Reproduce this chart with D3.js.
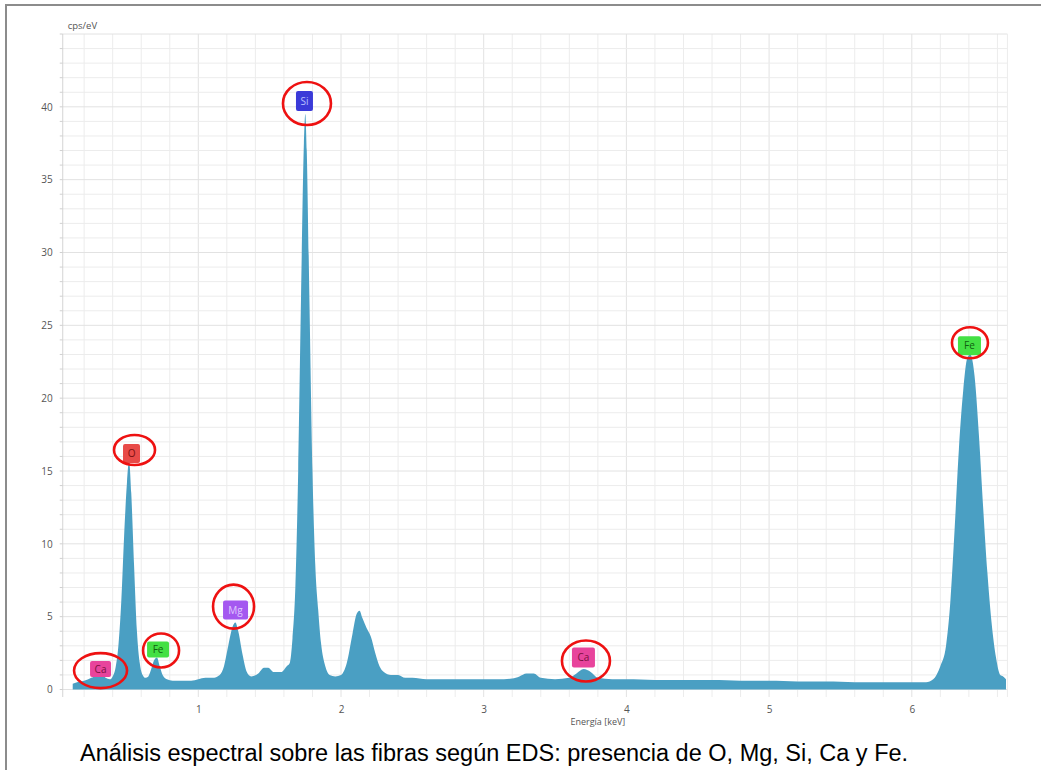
<!DOCTYPE html>
<html><head><meta charset="utf-8">
<script src="https://cdn.jsdelivr.net/npm/d3@7"></script>
<style>
html,body{margin:0;padding:0;background:#fff;}
svg{display:block;}
</style></head>
<body>
<svg id="chart" width="1041" height="770"></svg>
<script>
// ---------- DATA ----------
const energyKeV = [0.12,0.15,0.20,0.25,0.28,0.30,0.32,0.35,0.38,0.40,0.42,0.44,0.46,0.48,0.50,0.515,0.53,0.55,0.57,0.59,0.61,0.63,0.65,0.67,0.69,0.71,0.73,0.75,0.78,0.82,0.88,0.95,1.00,1.05,1.10,1.15,1.18,1.21,1.24,1.26,1.28,1.31,1.34,1.37,1.42,1.46,1.49,1.53,1.58,1.62,1.64,1.66,1.68,1.70,1.72,1.74,1.75,1.76,1.78,1.80,1.82,1.84,1.86,1.89,1.92,1.96,2.00,2.04,2.08,2.11,2.13,2.15,2.18,2.21,2.24,2.27,2.30,2.35,2.40,2.45,2.50,2.60,2.70,2.80,2.90,3.00,3.10,3.20,3.25,3.30,3.35,3.40,3.50,3.60,3.65,3.70,3.75,3.80,3.90,4.00,4.20,4.40,4.60,4.80,5.00,5.20,5.40,5.60,5.80,6.00,6.10,6.15,6.20,6.24,6.27,6.30,6.33,6.36,6.39,6.41,6.44,6.47,6.50,6.53,6.56,6.59,6.62,6.64,6.66];
const cpsPerEV = [0.4,0.5,0.6,0.8,1.0,1.4,1.3,0.8,0.7,0.9,1.5,3.0,6.0,10.5,14.2,15.7,13.5,8.5,4.0,1.8,1.0,0.8,0.9,1.4,2.0,2.2,1.6,1.0,0.7,0.6,0.6,0.6,0.7,0.8,0.8,1.0,1.6,3.0,4.3,4.6,4.0,2.4,1.2,0.9,1.1,1.5,1.5,1.2,1.2,1.6,1.8,3.5,7.0,15.0,27.0,37.5,39.5,37.0,26.0,15.0,8.5,5.5,3.2,1.6,1.0,0.9,1.0,1.8,3.8,5.2,5.4,4.9,4.2,3.6,2.5,1.6,1.2,1.0,1.0,0.8,0.8,0.7,0.7,0.7,0.7,0.7,0.7,0.75,0.9,1.1,1.1,0.8,0.7,0.8,1.1,1.4,1.2,0.8,0.7,0.7,0.65,0.65,0.65,0.6,0.6,0.55,0.55,0.5,0.5,0.5,0.5,0.7,1.6,3.0,6.0,11.0,16.5,20.5,22.8,23.0,21.5,17.5,12.5,8.0,4.5,2.2,1.0,0.9,0.7];

const yTicks = [0,5,10,15,20,25,30,35,40];
const xTicks = [1,2,3,4,5,6];

const peakElements = ["Ca","O","Fe","Mg","Si","Ca","Fe"];
const peakEnergy   = [0.315,0.532,0.718,1.261,1.744,3.699,6.404];
const peakLabelCps = [1.4,16.2,2.75,5.45,40.4,2.2,23.6];

const yAxisTitle = "cps/eV";
const xAxisTitle = "Energía [keV]";
const caption = "Análisis espectral sobre las fibras según EDS: presencia de O, Mg, Si, Ca y Fe.";

// ---------- STYLE ----------
const elementStyle = {
  Ca:{fill:"#e8449c", text:"#7a1040"},
  O: {fill:"#e84a48", text:"#7a1010"},
  Fe:{fill:"#44e044", text:"#106010"},
  Mg:{fill:"#a458f0", text:"#e0c8ff"},
  Si:{fill:"#3a3ad8", text:"#b8c0ff"}
};
const boxW = [21,17,22,25,17,23,23];
const boxH = [16,19,16,19,20,20,19];
const ringDX = [0,3,3,-2,2.5,2.5,0.5];
const ringDY = [1.5,-3.5,1,-3.5,2.5,3.5,-3];
const ringRX = [26.5,20.5,18,20.5,24,24,18];
const ringRY = [17.5,15,17,22,21.5,20.5,15.5];

const svg = d3.select("#chart");
const x = d3.scaleLinear().domain([0,7]).range([55.6, 55.6 + 7*142.7]);
const y = d3.scaleLinear().domain([0,45]).range([689.5, 34]);
const xMin = 0.05, xMax = 6.67;
const plotBottom = 697;

// outer frame
svg.append("path").attr("d","M6,772 L6,5 L1045,5").attr("fill","none")
  .attr("stroke","#8c8c8c").attr("stroke-width",2);

// grid
const g = svg.append("g");
const xGrid = d3.range(2, 67, 2).map(v => v/10);
g.selectAll(".vg").data(xGrid).join("line")
  .attr("x1", d => x(d)).attr("x2", d => x(d))
  .attr("y1", y(45)).attr("y2", plotBottom)
  .attr("stroke", d => Number.isInteger(d) ? "#e2e2e2" : "#ececec").attr("stroke-width",1);
const yGrid = d3.range(0, 46, 1);
g.selectAll(".hg").data(yGrid).join("line")
  .attr("x1", x(xMin)).attr("x2", x(xMax))
  .attr("y1", d => y(d)).attr("y2", d => y(d))
  .attr("stroke", d => d % 5 === 0 ? "#e2e2e2" : "#ececec").attr("stroke-width",1);
g.append("line").attr("x1",x(xMax)).attr("x2",x(xMax)).attr("y1",y(45)).attr("y2",plotBottom)
  .attr("stroke","#ececec");

// spectrum area
const data = energyKeV.map((e,i)=>({e, v:cpsPerEV[i]}));
const area = d3.area().x(d=>x(d.e)).y0(y(0)).y1(d=>y(d.v)).curve(d3.curveMonotoneX);
svg.append("path").datum(data).attr("d", area).attr("fill","#4a9fc3");

// y axis
const yAxis = d3.axisLeft(y).tickValues(yTicks).tickSize(0).tickPadding(10);
const ya = svg.append("g").attr("transform",`translate(${x(xMin)},0)`).call(yAxis);
ya.select(".domain").attr("stroke","#d4d4d4").attr("d",`M0,${y(45)}V${plotBottom}`);
ya.selectAll("text").attr("font-family","Open Sans, sans-serif").attr("font-size",10).attr("fill","#555");
ya.selectAll(".minor").data(yGrid).join("line").attr("class","minor")
  .attr("x1",-3).attr("x2",0).attr("y1",d=>y(d)).attr("y2",d=>y(d)).attr("stroke","#d0d0d0");

// x axis
const xAxis = d3.axisBottom(x).tickValues(xTicks).tickFormat(d3.format("d")).tickSize(0).tickPadding(9);
const xa = svg.append("g").attr("transform",`translate(0,${plotBottom})`).call(xAxis);
xa.select(".domain").remove();
xa.selectAll("text").attr("font-family","Open Sans, sans-serif").attr("font-size",10).attr("fill","#555");

// axis titles
svg.append("text").attr("x", x(xMin)+5).attr("y", 29).text(yAxisTitle)
  .attr("font-family","Open Sans, sans-serif").attr("font-size",9.5).attr("fill","#555");
svg.append("text").attr("x", x(3.8)).attr("y", 725).attr("text-anchor","middle").text(xAxisTitle)
  .attr("font-family","Open Sans, sans-serif").attr("font-size",9).attr("fill","#555");

// element labels
const lab = svg.append("g");
peakElements.forEach((el,i)=>{
  const cx = x(peakEnergy[i]), cy = y(peakLabelCps[i]);
  const st = elementStyle[el];
  lab.append("rect").attr("x",cx-boxW[i]/2).attr("y",cy-boxH[i]/2)
    .attr("width",boxW[i]).attr("height",boxH[i]).attr("rx",2).attr("fill",st.fill);
  lab.append("text").attr("x",cx).attr("y",cy+3.5).attr("text-anchor","middle")
    .attr("font-family","Open Sans, sans-serif").attr("font-size",10).attr("fill",st.text).text(el);
  lab.append("ellipse").attr("cx",cx+ringDX[i]).attr("cy",cy+ringDY[i])
    .attr("rx",ringRX[i]).attr("ry",ringRY[i])
    .attr("fill","none").attr("stroke","#ee1111").attr("stroke-width",2.6);
});

// caption
svg.append("text").attr("x",80).attr("y",761).text(caption)
  .attr("font-family","Liberation Sans, Arial, sans-serif").attr("font-size",23.5).attr("fill","#000");
</script>
</body></html>
